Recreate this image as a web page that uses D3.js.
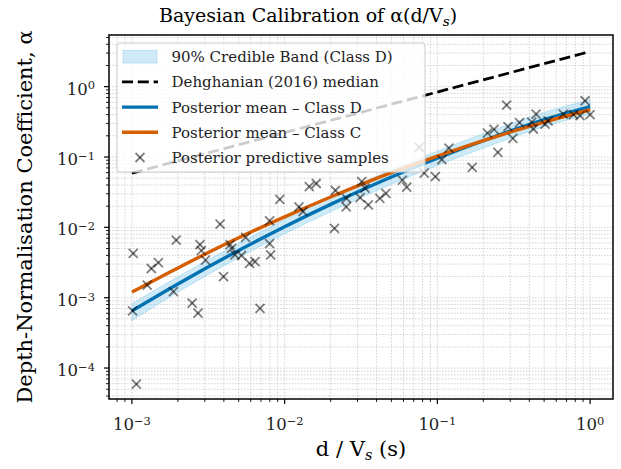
<!DOCTYPE html>
<html>
<head>
<meta charset="utf-8">
<script src="https://cdn.jsdelivr.net/npm/d3@7"></script>
<style>
  body { margin: 0; background: #fff; }
  svg { display: block; font-family: "DejaVu Serif", serif; }
</style>
</head>
<body>
<svg id="chart" width="621" height="469"></svg>
<script>
// Posterior mean curves and credible band
const curveX = [1e-3, 2e-3, 5e-3, 1e-2, 2e-2, 5e-2, 0.1, 0.2, 0.5, 1];
const meanD = [6.5e-4, 1.57e-3, 4.7e-3, 1.02e-2, 2.12e-2, 5.2e-2, 9.6e-2, 0.17, 0.34, 0.52];
const meanC = [1.2e-3, 2.65e-3, 7.1e-3, 1.41e-2, 2.7e-2, 6.0e-2, 0.103, 0.171, 0.313, 0.47];
const bandLo = [4.7e-4, 1.2e-3, 3.7e-3, 8.1e-3, 1.67e-2, 4.1e-2, 7.6e-2, 0.134, 0.27, 0.41];
const bandHi = [8.2e-4, 1.98e-3, 5.9e-3, 1.29e-2, 2.67e-2, 6.6e-2, 0.121, 0.214, 0.43, 0.655];

// Dehghanian (2016) median
const dehX = [1e-3, 1];
const dehY = [0.059, 3.16];

// Posterior predictive samples
const sampleX = [1.02e-3, 1.07e-3, 1.01e-3, 1.26e-3, 1.34e-3, 1.49e-3, 1.95e-3, 1.87e-3, 2.48e-3, 2.71e-3,
  2.79e-3, 2.85e-3, 3.03e-3, 3.78e-3, 3.98e-3, 4.39e-3, 4.49e-3, 4.73e-3, 5.22e-3, 5.55e-3,
  5.89e-3, 6.4e-3, 6.9e-3, 7.97e-3, 7.97e-3, 8.1e-3, 9.3e-3, 1.24e-2, 1.32e-2, 1.45e-2,
  1.61e-2, 2.15e-2, 2.12e-2, 2.54e-2, 2.53e-2, 3.2e-2, 3.36e-2, 3.12e-2, 3.53e-2, 4.2e-2,
  4.6e-2, 5.9e-2, 6.3e-2, 7.6e-2, 8.2e-2, 9.7e-2, 0.107, 0.119, 0.169, 0.213,
  0.235, 0.249, 0.284, 0.290, 0.312, 0.345, 0.415, 0.425, 0.443, 0.507,
  0.531, 0.668, 0.778, 0.86, 0.927, 1.0];
const sampleY = [4.25e-3, 5.9e-5, 6.5e-4, 1.51e-3, 2.6e-3, 3.16e-3, 6.6e-3, 1.22e-3, 8.4e-4, 6.05e-4,
  5.7e-3, 4.66e-3, 3.43e-3, 1.11e-2, 1.99e-3, 5.7e-3, 5.04e-3, 4.05e-3, 3.98e-3, 7.2e-3,
  3.08e-3, 3.25e-3, 7.07e-4, 1.24e-2, 5.85e-3, 4.05e-3, 2.5e-2, 1.95e-2, 1.68e-2, 3.8e-2,
  4.2e-2, 3.34e-2, 9.7e-3, 2.59e-2, 1.95e-2, 4.45e-2, 3.62e-2, 2.65e-2, 2.08e-2, 2.59e-2,
  3.03e-2, 4.7e-2, 3.74e-2, 0.137, 5.9e-2, 5.25e-2, 9.2e-2, 0.134, 7.1e-2, 0.219,
  0.246, 0.116, 0.548, 0.27, 0.184, 0.309, 0.314, 0.25, 0.408, 0.294,
  0.325, 0.408, 0.40, 0.387, 0.63, 0.40];

// Tick exponents
const xTickExp = [-3, -2, -1, 0];
const yTickExp = [-4, -3, -2, -1, 0];

const legendLabels = [
  "90% Credible Band (Class D)",
  "Dehghanian (2016) median",
  "Posterior mean \u2013 Class D",
  "Posterior mean \u2013 Class C",
  "Posterior predictive samples"
];

const blue = "#0072B2";
const orange = "#D55E00";

const margin = { left: 109, right: 613, top: 35, bottom: 399 };

const svg = d3.select("#chart");

const x = d3.scaleLog()
  .domain([Math.pow(10, -3.15), Math.pow(10, 0.15)])
  .range([margin.left, margin.right]);
const y = d3.scaleLog()
  .domain([Math.pow(10, -4.44), Math.pow(10, 0.734)])
  .range([margin.bottom, margin.top]);

// minor tick values
const minorVals = (scale, d0, d1) => {
  const out = [];
  const [lo, hi] = scale.domain();
  for (let d = d0; d <= d1; d++) {
    for (let k = 2; k <= 9; k++) {
      const v = k * Math.pow(10, d);
      if (v >= lo && v <= hi) out.push(v);
    }
  }
  return out;
};
const xMinor = minorVals(x, -4, 0);
const yMinor = minorVals(y, -5, 0);
const xMajor = xTickExp.map(e => Math.pow(10, e));
const yMajor = yTickExp.map(e => Math.pow(10, e));

// Grid (major + minor)
const grid = svg.append("g")
  .attr("stroke", "#c8c8c8")
  .attr("stroke-width", 0.8)
  .attr("stroke-dasharray", "1.5,1.5");

grid.selectAll(".gx")
  .data(xMajor.concat(xMinor))
  .enter().append("line")
  .attr("x1", d => x(d)).attr("x2", d => x(d))
  .attr("y1", margin.top).attr("y2", margin.bottom);

grid.selectAll(".gy")
  .data(yMajor.concat(yMinor))
  .enter().append("line")
  .attr("x1", margin.left).attr("x2", margin.right)
  .attr("y1", d => y(d)).attr("y2", d => y(d));

const plot = svg.append("g");

// Credible band
const bandData = curveX.map((v, i) => ({ x: v, lo: bandLo[i], hi: bandHi[i] }));
plot.append("path")
  .datum(bandData)
  .attr("fill", "#87CEEB")
  .attr("fill-opacity", 0.4)
  .attr("stroke", "#87CEEB")
  .attr("stroke-opacity", 0.5)
  .attr("stroke-width", 1)
  .attr("d", d3.area()
    .x(d => x(d.x))
    .y0(d => y(d.lo))
    .y1(d => y(d.hi))
    .curve(d3.curveMonotoneX));

// Dehghanian median
plot.append("path")
  .datum(dehX.map((v, i) => [v, dehY[i]]))
  .attr("fill", "none")
  .attr("stroke", "#000")
  .attr("stroke-width", 2.8)
  .attr("stroke-dasharray", "11,4.8")
  .attr("d", d3.line().x(d => x(d[0])).y(d => y(d[1])));

// Posterior means
const meanLine = d3.line()
  .x(d => x(d[0]))
  .y(d => y(d[1]))
  .curve(d3.curveMonotoneX);

plot.append("path")
  .datum(curveX.map((v, i) => [v, meanD[i]]))
  .attr("fill", "none")
  .attr("stroke", blue)
  .attr("stroke-width", 3.4)
  .attr("d", meanLine);

plot.append("path")
  .datum(curveX.map((v, i) => [v, meanC[i]]))
  .attr("fill", "none")
  .attr("stroke", orange)
  .attr("stroke-width", 3.4)
  .attr("d", meanLine);

// Samples (x markers)
const cross = (sel, s) => {
  sel.append("line").attr("x1", -s).attr("y1", -s).attr("x2", s).attr("y2", s);
  sel.append("line").attr("x1", -s).attr("y1", s).attr("x2", s).attr("y2", -s);
};
const samples = plot.append("g")
  .attr("stroke", "#000")
  .attr("stroke-opacity", 0.5)
  .attr("stroke-width", 1.8);
samples.selectAll("g")
  .data(sampleX.map((v, i) => [v, sampleY[i]]))
  .enter().append("g")
  .attr("transform", d => `translate(${x(d[0])},${y(d[1])})`)
  .each(function () { cross(d3.select(this), 4.5); });

// Axes frame
svg.append("rect")
  .attr("x", margin.left).attr("y", margin.top)
  .attr("width", margin.right - margin.left)
  .attr("height", margin.bottom - margin.top)
  .attr("fill", "none")
  .attr("stroke", "#000")
  .attr("stroke-width", 1.5);

// Ticks
const ticks = svg.append("g").attr("stroke", "#000");
ticks.selectAll(".xM").data(xMajor).enter().append("line")
  .attr("x1", d => x(d)).attr("x2", d => x(d))
  .attr("y1", margin.bottom).attr("y2", margin.bottom + 5)
  .attr("stroke-width", 1.2);
ticks.selectAll(".xm").data(xMinor).enter().append("line")
  .attr("x1", d => x(d)).attr("x2", d => x(d))
  .attr("y1", margin.bottom).attr("y2", margin.bottom + 3)
  .attr("stroke-width", 0.9);
ticks.selectAll(".yM").data(yMajor).enter().append("line")
  .attr("y1", d => y(d)).attr("y2", d => y(d))
  .attr("x1", margin.left).attr("x2", margin.left - 5)
  .attr("stroke-width", 1.2);
ticks.selectAll(".ym").data(yMinor).enter().append("line")
  .attr("y1", d => y(d)).attr("y2", d => y(d))
  .attr("x1", margin.left).attr("x2", margin.left - 3)
  .attr("stroke-width", 0.9);

// Tick labels, 10^e
const powLabel = (sel, e) => {
  sel.append("tspan").text("10");
  sel.append("tspan")
    .attr("dy", "-0.45em")
    .attr("font-size", "11.5px")
    .text(e < 0 ? "\u2212" + (-e) : String(e));
};
svg.append("g").selectAll("text")
  .data(xTickExp).enter().append("text")
  .attr("x", d => x(Math.pow(10, d)))
  .attr("y", 430)
  .attr("text-anchor", "middle")
  .attr("font-size", "16.5px")
  .attr("fill", "#222")
  .each(function (d) { powLabel(d3.select(this), d); });

svg.append("g").selectAll("text")
  .data(yTickExp).enter().append("text")
  .attr("x", 95)
  .attr("y", d => y(Math.pow(10, d)) + 8)
  .attr("text-anchor", "end")
  .attr("font-size", "16.5px")
  .attr("fill", "#222")
  .each(function (d) { powLabel(d3.select(this), d); });

// Axis labels
const xl = svg.append("text")
  .attr("x", (margin.left + margin.right) / 2)
  .attr("y", 456)
  .attr("text-anchor", "middle")
  .attr("font-size", "21px");
xl.append("tspan").text("d / V");
xl.append("tspan").attr("font-style", "italic").attr("font-size", "14.5px").attr("dy", "4").text("s");
xl.append("tspan").attr("dy", "-4").text(" (s)");

svg.append("text")
  .attr("transform", `translate(32,${(margin.top + margin.bottom) / 2}) rotate(-90)`)
  .attr("text-anchor", "middle")
  .attr("font-size", "21px")
  .text("Depth-Normalisation Coefficient, \u03b1");

// Title
const tl = svg.append("text")
  .attr("x", 308)
  .attr("y", 22)
  .attr("text-anchor", "middle")
  .attr("font-size", "19px");
tl.append("tspan").text("Bayesian Calibration of \u03b1(d/V");
tl.append("tspan").attr("font-style", "italic").attr("font-size", "13.5px").attr("dy", "3.5").text("s");
tl.append("tspan").attr("dy", "-3.5").text(")");

// Legend
const lg = svg.append("g");
lg.append("rect")
  .attr("x", 117).attr("y", 43)
  .attr("width", 308).attr("height", 129)
  .attr("rx", 3)
  .attr("fill", "#fff").attr("fill-opacity", 0.8)
  .attr("stroke", "#ccc").attr("stroke-width", 1);

const rowY = i => 56.7 + i * 25.2;

lg.append("rect")
  .attr("x", 123).attr("y", rowY(0) - 6.3)
  .attr("width", 34).attr("height", 12.6)
  .attr("fill", "#87CEEB").attr("fill-opacity", 0.4)
  .attr("stroke", "#87CEEB").attr("stroke-opacity", 0.5);
lg.append("line")
  .attr("x1", 122).attr("x2", 158)
  .attr("y1", rowY(1)).attr("y2", rowY(1))
  .attr("stroke", "#000").attr("stroke-width", 2.8)
  .attr("stroke-dasharray", "11,4.8");
lg.append("line")
  .attr("x1", 122).attr("x2", 158)
  .attr("y1", rowY(2)).attr("y2", rowY(2))
  .attr("stroke", blue).attr("stroke-width", 3.4);
lg.append("line")
  .attr("x1", 122).attr("x2", 158)
  .attr("y1", rowY(3)).attr("y2", rowY(3))
  .attr("stroke", orange).attr("stroke-width", 3.4);
const lm = lg.append("g")
  .attr("transform", `translate(140,${rowY(4)})`)
  .attr("stroke", "#000").attr("stroke-opacity", 0.5).attr("stroke-width", 1.8);
cross(lm, 4.5);

lg.selectAll(".lt")
  .data(legendLabels).enter().append("text")
  .attr("x", 171.5)
  .attr("y", (d, i) => rowY(i) + 5.5)
  .attr("font-size", "15px")
  .attr("fill", "#222")
  .text(d => d);
</script>
</body>
</html>
